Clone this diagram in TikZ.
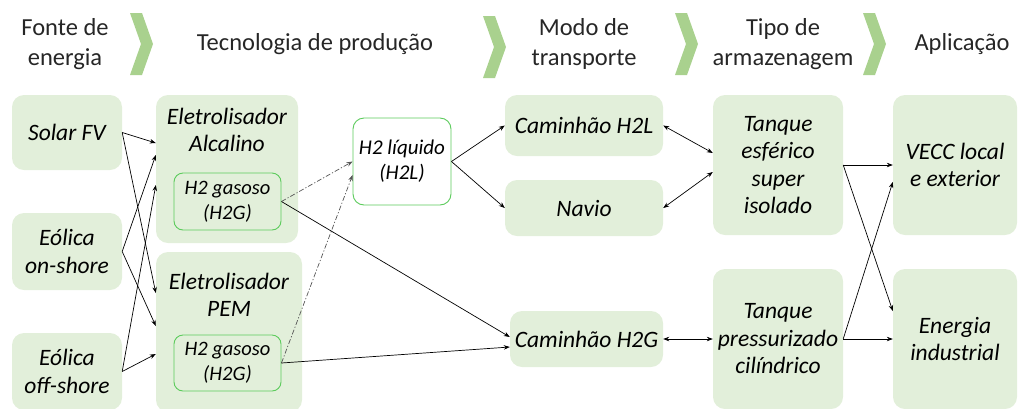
\documentclass[tikz,border=0pt]{standalone}
\usepackage{fontspec}
\setmainfont{Carlito}
\usetikzlibrary{arrows.meta,calc}
\definecolor{boxfill}{HTML}{E2EFDA}
\definecolor{chev}{HTML}{A9D18E}
\definecolor{edgegreen}{HTML}{5CCB5C}
\definecolor{dashgray}{HTML}{555555}
\tikzset{
  gbox/.style={draw=none, fill=boxfill, rounded corners=12pt, align=center,
    font=\fontsize{23.5}{27.5}\selectfont\itshape, inner sep=0pt},
  innerbox/.style={draw=edgegreen, line width=0.9pt, fill=boxfill, rounded corners=9pt, align=center,
    font=\fontsize{20.5}{25}\selectfont\itshape, inner sep=0pt},
  whitebox/.style={draw=edgegreen, line width=0.9pt, fill=white, rounded corners=11pt, align=center,
    font=\fontsize{21}{25}\selectfont\itshape, inner sep=0pt},
  plaintext/.style={align=center, font=\fontsize{23.5}{27.5}\selectfont\itshape, inner sep=0pt},
  heading/.style={align=center, font=\fontsize{24.5}{29.5}\selectfont, inner sep=0pt, text=black!85},
  chevron/.style={fill=chev, draw=none},
  conn/.style={-{Stealth[length=6pt,width=4.5pt]}, line width=0.7pt, black},
  biconn/.style={{Stealth[length=6pt,width=4.5pt]}-{Stealth[length=6pt,width=4.5pt]}, line width=0.7pt, black},
  dconn/.style={-{Stealth[length=6pt,width=4.5pt]}, line width=0.7pt, dashgray,
    dash pattern=on 5pt off 2pt on 1.2pt off 2pt},
}
\begin{document}
\begin{tikzpicture}[x=1pt,y=-1pt]
\useasboundingbox (0,0) rectangle (1019,408);
\begin{scope}
\clip (0,0) rectangle (1019,408);
% chevrons
\foreach \cx/\ty/\by in {130/13/75, 483/16/78, 675/13/75, 863/13/75}{
  \fill[chevron] (\cx,\ty) -- (\cx+12,\ty) -- (\cx+23,{(\ty+\by)/2}) -- (\cx+12,\by) -- (\cx,\by) -- (\cx+11,{(\ty+\by)/2}) -- cycle;
}
% headings
\node[heading] (h1) at (65,44) {Fonte de\\energia};
\node[heading] (h2) at (315,44) {Tecnologia de produção};
\node[heading] (h3) at (584,44) {Modo de\\transporte};
\node[heading] (h4) at (783,44) {Tipo de\\armazenagem};
\node[heading] (h5) at (962,44) {Aplicação};

% column 1
\node[gbox, minimum width=110pt, minimum height=75pt] (solar) at (67,132.5) {Solar FV};
\node[gbox, minimum width=110pt, minimum height=77pt] (onshore) at (67,251.5) {Eólica\\on-shore};
\node[gbox, minimum width=110pt, minimum height=77pt] (offshore) at (67,371.5) {Eólica\\off-shore};

% column 2
\node[gbox, minimum width=142pt, minimum height=148pt] (alc) at (227,169) {};
\node[plaintext] (alct) at (227,130) {Eletrolisador\\Alcalino};
\node[innerbox, minimum width=107pt, minimum height=57pt] (gasA) at (227.5,201.5) {H2 gasoso\\(H2G)};
\node[gbox, minimum width=146pt, minimum height=160pt] (pem) at (229,332) {};
\node[plaintext] (pemt) at (229,295) {Eletrolisador\\PEM};
\node[innerbox, minimum width=107pt, minimum height=56pt] (gasP) at (227.5,363) {H2 gasoso\\(H2G)};

% liquid
\node[whitebox, minimum width=98pt, minimum height=87pt] (liq) at (402,161.5) {H2 líquido\\(H2L)};

% transport
\node[gbox, minimum width=158pt, minimum height=61pt] (camL) at (584,125.5) {Caminhão H2L};
\node[gbox, minimum width=158pt, minimum height=56pt] (navio) at (584,208) {Navio};
\node[gbox, minimum width=153pt, minimum height=56pt] (camG) at (586.5,339) {Caminhão H2G};

% storage
\node[gbox, minimum width=130pt, minimum height=140pt] (tesf) at (778,165) {Tanque\\esférico\\super\\isolado};
\node[gbox, minimum width=130pt, minimum height=140pt] (tpres) at (778,339) {Tanque\\pressurizado\\cilíndrico};

% application
\node[gbox, minimum width=124pt, minimum height=140pt] (vecc) at (955,165) {VECC local\\e exterior};
\node[gbox, minimum width=124pt, minimum height=140pt] (ener) at (955,339) {Energia\\industrial};
\end{scope}

% connectors: sources to electrolysers
\draw[conn] (solar.east) -- ([yshift=26pt]alc.west);
\draw[conn] (solar.east) -- ([yshift=39pt]pem.west);
\draw[conn] (onshore.east) -- ([yshift=14pt]alc.west);
\draw[conn] (onshore.east) -- ([yshift=6pt]pem.west);
\draw[conn] (offshore.east) -- ([yshift=-16pt]alc.west);
\draw[conn] (offshore.east) -- ([yshift=-22pt]pem.west);

% gas to liquid (dash-dot)
\draw[dconn] (gasA.east) -- (liq.west);
\draw[dconn] (gasP.east) -- ([yshift=-13.5pt]liq.west);

% gas to truck
\draw[conn] (gasA.east) -- ([yshift=2pt]camG.west);
\draw[conn] (gasP.east) -- ([yshift=-8pt]camG.west);

% liquid to transport
\draw[conn] (liq.east) -- (camL.west);
\draw[conn] (liq.east) -- (navio.west);

% transport <-> storage
\draw[biconn] (camL.east) -- ([yshift=12pt]tesf.west);
\draw[biconn] (navio.east) -- ([yshift=-7pt]tesf.west);
\draw[biconn] (camG.east) -- (tpres.west);

% storage to application
\draw[conn] (tesf.east) -- (vecc.west);
\draw[conn] (tesf.east) -- ([yshift=28pt]ener.west);
\draw[conn] (tpres.east) -- (ener.west);
\draw[conn] (tpres.east) -- ([yshift=-17pt]vecc.west);
\end{tikzpicture}
\end{document}
